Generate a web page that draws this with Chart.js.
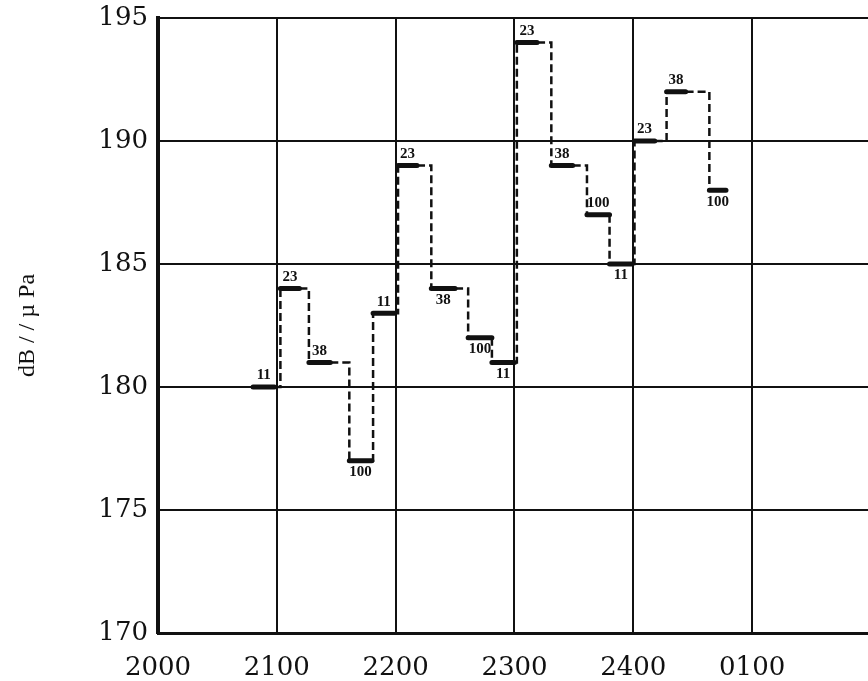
<!DOCTYPE html>
<html>
  <head>
    <title>Source level steps</title>
    <script src="https://cdn.jsdelivr.net/npm/chart.js@4.4.1/dist/chart.umd.min.js"></script>
    <style>
      body { margin: 0; background: #fff; }
      #wrap { width: 868px; height: 681px; }
    </style>
  </head>
  <body>
    <div id="wrap"><canvas id="levelChart"></canvas></div>

    <script>
      // Data (hours after 2000, level in dB)
      const tickLabels = ["2000", "2100", "2200", "2300", "2400", "0100", "0200"];
      const stepLabels = ["11", "23", "38", "100", "11", "23", "38", "100", "11", "23", "38", "100", "11", "23", "38", "100"];
      const levels = [180, 184, 181, 177, 183, 189, 184, 182, 181, 194, 189, 187, 185, 190, 192, 188];
      const starts = [0.80, 1.03, 1.27, 1.61, 1.81, 2.02, 2.30, 2.61, 2.81, 3.02, 3.31, 3.61, 3.80, 4.01, 4.28, 4.64];
      const ends = [0.98, 1.19, 1.45, 1.80, 1.99, 2.18, 2.50, 2.81, 3.00, 3.19, 3.49, 3.80, 3.99, 4.18, 4.44, 4.78];

      // bold segments, broken with null points
      const segPoints = [];
      for (let i = 0; i < levels.length; i++) {
        segPoints.push({ x: starts[i], y: levels[i] });
        segPoints.push({ x: ends[i], y: levels[i] });
        segPoints.push({ x: ends[i], y: null });
      }

      // dashed connectors: across, then up/down to the next level
      const linkPoints = [];
      for (let i = 0; i < levels.length - 1; i++) {
        linkPoints.push({ x: ends[i], y: levels[i] });
        linkPoints.push({ x: starts[i + 1], y: levels[i] });
        linkPoints.push({ x: starts[i + 1], y: levels[i + 1] });
        linkPoints.push({ x: starts[i + 1], y: null });
      }

      // which labels sit under their segment
      const below = [3, 6, 7, 8, 12, 15];

      const stepLabelPlugin = {
        id: "stepLabels",
        afterDatasetsDraw(chart) {
          const c = chart.ctx;
          const xs = chart.scales.x, ys = chart.scales.y;
          c.save();
          c.fillStyle = "#111";
          c.font = "bold 15px 'Liberation Serif'";
          c.textAlign = "center";
          for (let i = 0; i < levels.length; i++) {
            const px = xs.getPixelForValue((starts[i] + ends[i]) / 2);
            const py = ys.getPixelForValue(levels[i]);
            if (below.includes(i)) {
              c.textBaseline = "top";
              c.fillText(stepLabels[i], px, py + 4);
            } else {
              c.textBaseline = "bottom";
              c.fillText(stepLabels[i], px, py - 4);
            }
          }
          c.restore();
        }
      };

      const ctx = document.getElementById("levelChart").getContext("2d");

      const chart = new Chart(ctx, {
        type: "line",
        data: {
          datasets: [
            {
              data: segPoints,
              borderColor: "#111",
              borderWidth: 5,
              pointRadius: 0,
              spanGaps: false,
              borderCapStyle: "round"
            },
            {
              data: linkPoints,
              borderColor: "#111",
              borderWidth: 2.5,
              borderDash: [8, 4],
              pointRadius: 0,
              spanGaps: false
            }
          ]
        },
        options: {
          responsive: true,
          maintainAspectRatio: false,
          animation: false,
          layout: { padding: { top: 18, right: 0, bottom: 0, left: 0 } },
          plugins: { legend: { display: false }, tooltip: { enabled: false } },
          scales: {
            x: {
              type: "linear",
              min: 0,
              max: 5.975,
              border: { color: "#111", width: 3 },
              grid: { color: "#111", lineWidth: 2, drawTicks: false },
              afterBuildTicks: (scale) => {
                scale.ticks = scale.ticks.filter(t => Number.isInteger(t.value));
              },
              afterFit: (scale) => { scale.height = 48; },
              ticks: {
                stepSize: 1,
                padding: 20,
                color: "#111",
                font: { family: "'DejaVu Serif'", size: 26 },
                callback: (v) => tickLabels[v]
              }
            },
            y: {
              min: 170,
              max: 195,
              border: { color: "#111", width: 4 },
              grid: { color: "#111", lineWidth: 2, drawTicks: false },
              afterFit: (scale) => {
                scale.width = 158;
                scale.paddingTop = 0;
                scale.paddingBottom = 0;
              },
              ticks: {
                stepSize: 5,
                padding: 10,
                color: "#111",
                font: { family: "'DejaVu Serif'", size: 26, lineHeight: 1 }
              },
              title: {
                display: true,
                text: "dB / / \u00b5 Pa",
                color: "#111",
                padding: { top: 13, bottom: 0 },
                font: { family: "'Liberation Serif'", size: 24 }
              }
            }
          }
        },
        plugins: [stepLabelPlugin]
      });
    </script>
  </body>
</html>
